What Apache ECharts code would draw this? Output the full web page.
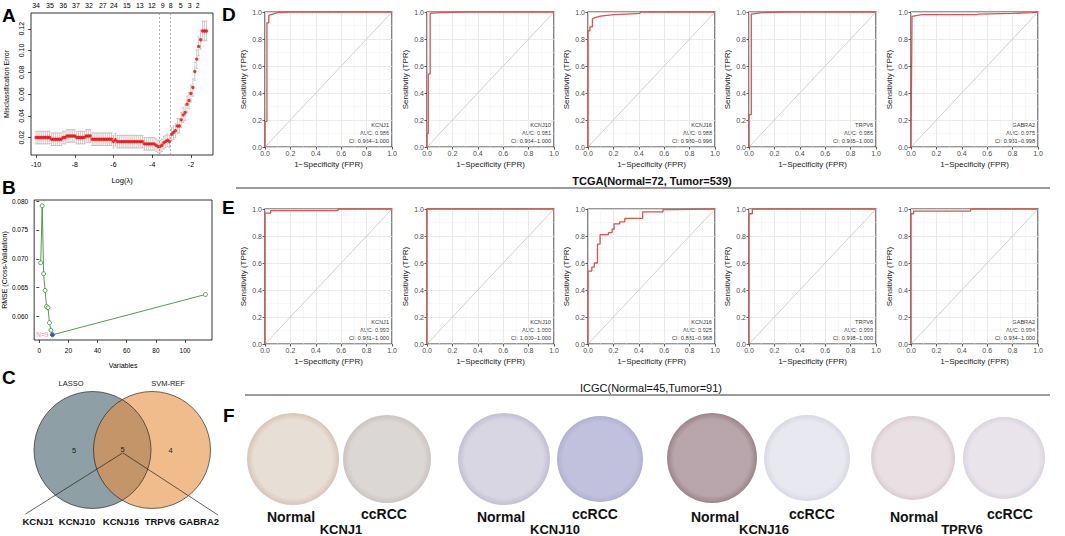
<!DOCTYPE html>
<html><head><meta charset="utf-8">
<script src="https://cdn.jsdelivr.net/npm/echarts@6/dist/echarts.min.js"></script>
<style>html,body{margin:0;padding:0;background:#fff}#c{width:1065px;height:536px}</style>
</head><body><div id="c"></div>
<script>
// ================= DATA =================
// Panel A: LASSO cross-validation
const lassoLogLambda = [-10.0,-9.9,-9.8,-9.7,-9.6,-9.5,-9.4,-9.3,-9.2,-9.1,-9.0,-8.9,-8.8,-8.7,-8.6,-8.5,-8.4,-8.3,-8.2,-8.1,-8.0,-7.9,-7.8,-7.7,-7.6,-7.5,-7.4,-7.3,-7.2,-7.1,-7.0,-6.9,-6.8,-6.7,-6.6,-6.5,-6.4,-6.3,-6.2,-6.1,-6.0,-5.9,-5.8,-5.7,-5.6,-5.5,-5.4,-5.3,-5.2,-5.1,-5.0,-4.9,-4.8,-4.7,-4.6,-4.5,-4.4,-4.3,-4.2,-4.1,-4.0,-3.9,-3.8,-3.7,-3.6,-3.5,-3.4,-3.3,-3.2,-3.1,-3.0,-2.9,-2.8,-2.7,-2.6,-2.5,-2.4,-2.3,-2.2,-2.1,-2.0,-1.9,-1.8,-1.7,-1.6,-1.5,-1.4,-1.3,-1.2];
const lassoError = [0.020,0.020,0.020,0.020,0.020,0.020,0.020,0.020,
  0.0185,0.0185,0.0185,0.0185,0.0185,0.0185,
  0.020,0.020,
  0.0215,0.0215,0.0215,0.0215,0.0215,
  0.020,0.020,0.020,0.020,0.020,
  0.0215,0.0215,0.0215,
  0.0185,0.0185,0.0185,0.0185,0.0185,0.0185,0.0185,0.0185,0.0185,0.0185,0.0185,
  0.0163,0.018,
  0.0163,0.0163,0.0163,0.0163,0.0163,0.0163,0.0163,0.0163,0.0163,0.0163,0.0163,0.0163,0.0163,0.0163,
  0.0142,0.0142,0.0142,0.0142,0.0142,0.0142,
  0.013,0.0117,0.0117,0.013,0.0152,0.0165,0.0175,0.0163,
  0.0231,0.0246,0.0264,0.0307,0.0307,0.0363,0.0409,0.043,0.0507,0.054,0.0605,0.066,0.0808,0.0921,0.1038,0.110,0.118,0.118,0.118];
const lassoSE = [0.0058,0.0058,0.0058,0.0058,0.0058,0.0058,0.0058,0.0058,0.0058,0.0058,
  0.0058,0.0058,0.0058,0.0058,0.0058,0.0058,0.0058,0.0058,0.0058,0.0058,
  0.0058,0.0058,0.0058,0.0058,0.0058,0.0058,0.0058,0.0058,0.0058,0.0058,
  0.0058,0.0058,0.0058,0.0058,0.0058,0.0058,0.0058,0.0058,0.0058,0.0058,
  0.0058,0.0058,0.0058,0.0058,0.0058,0.0058,0.0058,0.0058,0.0058,0.0058,
  0.0058,0.0058,0.0058,0.0058,0.0058,0.0058,0.0058,0.0058,0.0058,0.0058,
  0.0058,0.0058,0.0058,0.0058,0.0058,0.0058,0.0058,0.0058,0.0058,0.0058,
  0.006,0.0062,0.0064,0.0066,0.0066,0.0068,0.007,0.0072,0.0074,0.0076,0.0078,0.008,0.0082,0.0084,0.0086,0.0088,0.009,0.009,0.009];
const lassoTopPos = [-10,-9.28,-8.6,-7.94,-7.27,-6.55,-5.98,-5.31,-4.64,-4.02,-3.46,-3.04,-2.53,-2.06,-1.65];
const lassoTopLabels = [34,35,36,37,32,27,24,15,13,12,9,8,5,3,2];
const lassoXTicks = [-10,-8,-6,-4,-2];
const lassoYTicks = [0.02,0.04,0.06,0.08,0.10,0.12];
const lambdaLines = [-3.63,-3.05];

// Panel B: SVM-RFE
const rfeVars = [1,2,3,4,5,6,7,8,9,114];
const rfeRMSE = [0.0693,0.0792,0.0674,0.0645,0.0617,0.0615,0.0589,0.0576,0.0568,0.0638];
const rfeXTicks = [0,20,40,60,80,100];
const rfeYTicks = [0.060,0.065,0.070,0.075,0.080];

// Panel C: Venn
const vennSets = ['LASSO','SVM-REF'];
const vennCounts = [5,5,4]; // LASSO only, both, SVM-REF only
const vennGenes = ['KCNJ1','KCNJ10','KCNJ16','TRPV6','GABRA2'];

// Panels D/E: ROC
const rocGenes = ['KCNJ1','KCNJ10','KCNJ16','TRPV6','GABRA2'];
const tcgaAUC = [0.986,0.981,0.988,0.986,0.975];
const tcgaCILow = [0.964,0.954,0.980,0.965,0.951];
const tcgaCIHigh = [1.000,1.000,0.996,1.000,0.998];
const icgcAUC = [0.993,1.000,0.925,0.999,0.994];
const icgcCILow = [0.981,1.000,0.881,0.998,0.984];
const icgcCIHigh = [1.000,1.000,0.968,1.000,1.000];
const rocTicks = [0,0.2,0.4,0.6,0.8,1.0];
const rocTcgaKCNJ1 = [[0,0],[0,0.19],[0.015,0.19],[0.015,0.92],[0.03,0.92],[0.03,0.975],[0.06,0.985],[0.1,0.995],[0.2,1],[1,1]];
const rocTcgaKCNJ10 = [[0,0],[0,0.1],[0.01,0.1],[0.01,0.54],[0.025,0.54],[0.025,0.99],[0.1,0.995],[0.3,1],[1,1]];
const rocTcgaKCNJ16 = [[0,0],[0,0.86],[0.015,0.86],[0.015,0.89],[0.035,0.89],[0.035,0.95],[0.06,0.96],[0.1,0.97],[0.2,0.98],[0.3,0.985],[0.41,0.99],[0.41,1],[1,1]];
const rocTcgaTRPV6 = [[0,0],[0,0.24],[0.018,0.24],[0.018,0.985],[0.1,0.995],[0.3,1],[1,1]];
const rocTcgaGABRA2 = [[0,0],[0.008,0.968],[0.02,0.97],[0.085,0.98],[0.52,0.98],[0.53,0.985],[0.8,0.99],[0.95,0.995],[1,1]];
const rocIcgcKCNJ1 = [[0,0],[0,0.97],[0.045,0.97],[0.045,0.988],[0.575,0.988],[0.575,1],[1,1]];
const rocIcgcKCNJ10 = [[0,0],[0,1],[1,1]];
const rocIcgcKCNJ16 = [[0,0],[0,0.54],[0.03,0.54],[0.03,0.57],[0.05,0.57],[0.05,0.6],[0.075,0.6],[0.075,0.74],[0.095,0.74],[0.095,0.81],[0.16,0.81],[0.16,0.825],[0.19,0.825],[0.19,0.85],[0.205,0.85],[0.205,0.89],[0.25,0.89],[0.25,0.905],[0.29,0.905],[0.29,0.93],[0.43,0.93],[0.43,0.978],[0.59,0.978],[0.59,0.995],[0.66,0.995],[0.66,1],[1,1]];
const rocIcgcTRPV6 = [[0,0],[0,0.965],[0.026,0.965],[0.026,1],[1,1]];
const rocIcgcGABRA2 = [[0,0],[0,0.965],[0.02,0.965],[0.02,0.985],[0.47,0.985],[0.47,1],[1,1]];
const rocTcga = [rocTcgaKCNJ1,rocTcgaKCNJ10,rocTcgaKCNJ16,rocTcgaTRPV6,rocTcgaGABRA2];
const rocIcgc = [rocIcgcKCNJ1,rocIcgcKCNJ10,rocIcgcKCNJ16,rocIcgcTRPV6,rocIcgcGABRA2];
const tcgaTitle = 'TCGA(Normal=72, Tumor=539)';
const icgcTitle = 'ICGC(Normal=45,Tumor=91)';

// Panel F: IHC
const ihcGenes = ['KCNJ1','KCNJ10','KCNJ16','TPRV6'];
const ihcGroups = ['Normal','ccRCC'];

// ================= LAYOUT / OPTION =================
const FONT = 'Liberation Sans, Arial, Helvetica, sans-serif';
const grids = [], xAxes = [], yAxes = [], series = [], graphics = [];
const nearIdx = (arr, v) => arr.findIndex(p => Math.abs(p - v) < 1e-6);

// ---- Panel A ----
grids.push({left:31, top:13, width:182, height:142, show:true, borderColor:'#000', borderWidth:0.8});
xAxes.push({gridIndex:0, type:'value', min:-10.26, max:-0.86,
  axisLine:{show:false}, splitLine:{show:false},
  axisTick:{customValues:lassoXTicks, length:3, lineStyle:{color:'#000', width:0.7}},
  axisLabel:{customValues:lassoXTicks, fontSize:7, margin:6, color:'#000', fontFamily:FONT},
  name:'Log(λ)', nameLocation:'middle', nameGap:21, nameTextStyle:{fontSize:7.5, color:'#000', fontFamily:FONT}});
xAxes.push({gridIndex:0, type:'value', position:'top', min:-10.26, max:-0.86,
  axisLine:{show:false}, splitLine:{show:false}, axisTick:{show:false},
  axisLabel:{customValues:lassoTopPos, fontSize:7, margin:4, color:'#000', fontFamily:FONT,
    formatter:(v)=>{const k=nearIdx(lassoTopPos,v); return k>=0?String(lassoTopLabels[k]):'';}}});
yAxes.push({gridIndex:0, type:'value', min:0.004, max:0.1345,
  axisLine:{show:false}, splitLine:{show:false},
  axisTick:{customValues:lassoYTicks, length:3, lineStyle:{color:'#000', width:0.7}},
  axisLabel:{customValues:lassoYTicks, rotate:90, fontSize:7, margin:6, color:'#000', fontFamily:FONT, formatter:v=>v.toFixed(2)},
  name:'Misclassification Error', nameLocation:'middle', nameGap:21, nameTextStyle:{fontSize:7, color:'#000', fontFamily:FONT}});
series.push({type:'custom', xAxisIndex:0, yAxisIndex:0, silent:true, z:2,
  data: lassoLogLambda.map((x,i)=>[x, lassoError[i]-lassoSE[i], lassoError[i]+lassoSE[i]]),
  renderItem:(params, api)=>{
    const x=api.value(0), p1=api.coord([x, api.value(1)]), p2=api.coord([x, api.value(2)]);
    const w=1.1, st={stroke:'#a9a9a9', lineWidth:0.6};
    return {type:'group', children:[
      {type:'line', shape:{x1:p1[0],y1:p1[1],x2:p2[0],y2:p2[1]}, style:st},
      {type:'line', shape:{x1:p1[0]-w,y1:p1[1],x2:p1[0]+w,y2:p1[1]}, style:st},
      {type:'line', shape:{x1:p2[0]-w,y1:p2[1],x2:p2[0]+w,y2:p2[1]}, style:st}]};
  }});
series.push({type:'scatter', xAxisIndex:0, yAxisIndex:0, silent:true, z:3,
  data: lassoLogLambda.map((x,i)=>[x, lassoError[i]]),
  symbol:'circle', symbolSize:3.4, itemStyle:{color:'#ff0000'},
  markLine:{symbol:'none', silent:true, label:{show:false}, animation:false,
    lineStyle:{type:[2,2], color:'#8c8c8c', width:0.7},
    data: lambdaLines.map(v=>({xAxis:v}))}});

// ---- Panel B ----
grids.push({left:31, top:200, width:181, height:140, show:true, borderColor:'#000', borderWidth:0.8});
xAxes.push({gridIndex:1, type:'value', min:-3.5, max:118.5,
  axisLine:{show:false}, splitLine:{show:false},
  axisTick:{customValues:rfeXTicks, length:3, lineStyle:{color:'#000', width:0.7}},
  axisLabel:{customValues:rfeXTicks, fontSize:6.5, margin:7, color:'#000', fontFamily:FONT},
  name:'Variables', nameLocation:'middle', nameGap:22, nameTextStyle:{fontSize:7, color:'#000', fontFamily:FONT}});
yAxes.push({gridIndex:1, type:'value', min:0.0559, max:0.0802,
  axisLine:{show:false}, splitLine:{show:false},
  axisTick:{customValues:rfeYTicks, length:3, lineStyle:{color:'#000', width:0.7}},
  axisLabel:{customValues:rfeYTicks, fontSize:6.5, margin:6, color:'#000', fontFamily:FONT, formatter:v=>v.toFixed(3)},
  name:'RMSE (Cross-Validation)', nameLocation:'middle', nameGap:22, nameTextStyle:{fontSize:7, color:'#000', fontFamily:FONT}});
series.push({type:'line', xAxisIndex:2, yAxisIndex:1, silent:true,
  data: rfeVars.map((v,i)=>[v, rfeRMSE[i]]),
  symbol:'circle', symbolSize:4, showAllSymbol:true,
  lineStyle:{color:'#3f8f3f', width:0.9},
  itemStyle:{color:'#ffffff', borderColor:'#3f8f3f', borderWidth:0.9}});
const rfeMin = rfeRMSE.indexOf(Math.min(...rfeRMSE));
series.push({type:'scatter', xAxisIndex:2, yAxisIndex:1, silent:true, z:4,
  data:[[rfeVars[rfeMin], rfeRMSE[rfeMin]]], symbolSize:4, itemStyle:{color:'#1a1aff'},
  label:{show:true, position:'left', distance:2, formatter:'N='+rfeVars[rfeMin], fontSize:6.5, color:'#ff5f86', fontFamily:FONT}});

// ---- overlay pixel grid (Venn + IHC) ----
grids.push({left:0, top:0, width:1065, height:536, show:false});
const xOv = xAxes.length, yOv = yAxes.length;
xAxes.push({gridIndex:2, type:'value', min:0, max:1065, show:false});
yAxes.push({gridIndex:2, type:'value', min:0, max:536, inverse:true, show:false});
const vennR = 117;
series.push({type:'scatter', xAxisIndex:xOv, yAxisIndex:yOv, silent:true, z:1,
  data:[{name:vennSets[0], value:[92.5,450]}], symbolSize:vennR, itemStyle:{color:'#728790'}});
series.push({type:'scatter', xAxisIndex:xOv, yAxisIndex:yOv, silent:true, z:2,
  data:[{name:vennSets[1], value:[152,450]}], symbolSize:vennR, itemStyle:{color:'rgb(230,143,63)', opacity:0.6}});
series.push({type:'scatter', xAxisIndex:xOv, yAxisIndex:yOv, silent:true, z:3,
  data:[[92.5,450],[152,450]], symbolSize:vennR, itemStyle:{color:'rgba(0,0,0,0)', borderColor:'#1a1a1a', borderWidth:0.8}});
series.push({type:'lines', coordinateSystem:'cartesian2d', xAxisIndex:xOv, yAxisIndex:yOv, silent:true, z:4,
  lineStyle:{color:'#222', width:0.7, opacity:1},
  data:[{coords:[[122.5,453],[25.5,514]]},{coords:[[123,453],[218,515]]}]});

// IHC cores
const ihcCores = [
  {x:293,y:459,r:46,c1:'#e2d6ca',c2:'#cdb7a4'}, {x:387,y:459,r:44,c1:'#d2cdca',c2:'#bdb6b2'},
  {x:504,y:459,r:46,c1:'#cfcbdc',c2:'#b3aec8'}, {x:600,y:459,r:43,c1:'#b2b2d6',c2:'#9d9dc6'},
  {x:712,y:458,r:45,c1:'#a58f96',c2:'#82656a'}, {x:807,y:458,r:43,c1:'#e2e2ec',c2:'#cfcfde'},
  {x:913,y:458,r:42,c1:'#e4d8dc',c2:'#d1c0c7'}, {x:1004,y:458,r:41,c1:'#e3dee6',c2:'#d0c9d6'}];
series.push({type:'scatter', xAxisIndex:xOv, yAxisIndex:yOv, silent:true, z:1,
  data: ihcCores.map((p,i)=>({name:ihcGenes[Math.floor(i/2)]+' '+ihcGroups[i%2], value:[p.x,p.y], symbolSize:p.r*2,
    itemStyle:{color:{type:'radial', x:0.5, y:0.5, r:0.5, colorStops:[{offset:0,color:p.c1},{offset:0.85,color:p.c1},{offset:1,color:p.c2}]}}}))});

// ---- ROC panels ----
const rocLefts = [265,427,588,749,911];
const rocW = 127, rocH = 135;
function addRoc(left, top, curve, gene, auc, lo, hi){
  const gi = grids.length;
  grids.push({left, top, width:rocW, height:rocH, show:true, borderColor:'#333', borderWidth:1.2, backgroundColor:'#fff'});
  const xi = xAxes.length, yi = yAxes.length;
  const common = {gridIndex:gi, type:'value', min:0, max:1, interval:0.2,
    axisLine:{show:false},
    axisTick:{show:true, length:2.5, lineStyle:{color:'#333', width:0.8}},
    splitLine:{show:true, lineStyle:{color:'#e4e4e4', width:0.8}},
    minorTick:{show:false, splitNumber:2},
    minorSplitLine:{show:true, lineStyle:{color:'#f0f0f0', width:0.5}},
    nameLocation:'middle', nameTextStyle:{fontSize:8, color:'#1a1a1a', fontFamily:FONT}};
  xAxes.push(Object.assign({}, common, {axisLabel:{fontSize:7, margin:3, color:'#4d4d4d', fontFamily:FONT, formatter:v=>v.toFixed(1)},
    name:'1−Specificity (FPR)', nameGap:13}));
  yAxes.push(Object.assign({}, common, {axisLabel:{fontSize:7, margin:3, color:'#4d4d4d', fontFamily:FONT, formatter:v=>v.toFixed(1)},
    name:'Sensitivity (TPR)', nameGap:18}));
  series.push({type:'line', xAxisIndex:xi, yAxisIndex:yi, silent:true, symbol:'none', clip:false,
    data:[[0,0],[1,1]], lineStyle:{color:'#c4c4c4', width:0.8}});
  series.push({type:'line', xAxisIndex:xi, yAxisIndex:yi, silent:true, symbol:'none', clip:false, z:3,
    data:curve, lineStyle:{color:'#d9534f', width:1.3}});
  const rx = left + rocW - 3, by = top + rocH;
  const ts = {fontSize:5.6, fill:'#333', fontFamily:FONT, textAlign:'right', textVerticalAlign:'middle'};
  graphics.push({type:'text', x:rx, y:by-22, style:Object.assign({text:gene}, ts)});
  graphics.push({type:'text', x:rx, y:by-14.5, style:Object.assign({text:'AUC: '+auc.toFixed(3)}, ts)});
  graphics.push({type:'text', x:rx, y:by-6.5, style:Object.assign({text:'CI: '+lo.toFixed(3)+'−'+hi.toFixed(3)}, ts)});
}
rocGenes.forEach((g,i)=>addRoc(rocLefts[i], 12, rocTcga[i], g, tcgaAUC[i], tcgaCILow[i], tcgaCIHigh[i]));
rocGenes.forEach((g,i)=>addRoc(rocLefts[i], 209, rocIcgc[i], g, icgcAUC[i], icgcCILow[i], icgcCIHigh[i]));

// ---- text / decorations ----
const letter = (t,x,y)=>graphics.push({type:'text', x, y, style:{text:t, fontSize:19, fontWeight:'bold', fill:'#000', fontFamily:FONT, textVerticalAlign:'middle'}});
letter('A',2,15); letter('B',2,187); letter('C',2,377); letter('D',222,14); letter('E',222,207); letter('F',223,415);

graphics.push({type:'line', shape:{x1:236,y1:188,x2:1050,y2:188}, style:{stroke:'#7a7a7a', lineWidth:1.3}});
graphics.push({type:'line', shape:{x1:245,y1:395,x2:1050,y2:395}, style:{stroke:'#7a7a7a', lineWidth:1.3}});
graphics.push({type:'text', x:652, y:181, style:{text:tcgaTitle, fontSize:11, fontWeight:'bold', fill:'#111', fontFamily:FONT, textAlign:'center', textVerticalAlign:'middle'}});
graphics.push({type:'text', x:651, y:388, style:{text:icgcTitle, fontSize:11, fill:'#111', fontFamily:FONT, textAlign:'center', textVerticalAlign:'middle'}});

// Venn labels
const vt = (t,x,y,extra)=>graphics.push({type:'text', x, y, z:10, style:Object.assign({text:String(t), fontSize:7.5, fill:'#222', fontFamily:FONT, textAlign:'center', textVerticalAlign:'middle'}, extra||{})});
vt(vennSets[0],71,383); vt(vennSets[1],168,383);
vt(vennCounts[0],74,450); vt(vennCounts[1],122.7,449); vt(vennCounts[2],170.7,450);
const geneX = [38,77,121,160,199];
vennGenes.forEach((g,i)=>vt(g, geneX[i], 521, {fontSize:9.5, fontWeight:'bold', fill:'#111'}));

// IHC labels
const ihcNormalX = [291,501,715,914], ihcTumorX = [384,595,812,1010], ihcGeneX = [341,555,764,962];
ihcGenes.forEach((g,i)=>{
  const st = {fontWeight:'bold', fill:'#111', fontFamily:FONT, textAlign:'center', textVerticalAlign:'middle'};
  graphics.push({type:'text', x:ihcNormalX[i], y:517, style:Object.assign({text:ihcGroups[0], fontSize:14}, st)});
  graphics.push({type:'text', x:ihcTumorX[i], y:514, style:Object.assign({text:ihcGroups[1], fontSize:14}, st)});
  graphics.push({type:'text', x:ihcGeneX[i], y:529, style:Object.assign({text:g, fontSize:13}, st)});
});

const chart = echarts.init(document.getElementById('c'), null, {renderer:'svg'});
chart.setOption({animation:false, backgroundColor:'#fff', grid:grids, xAxis:xAxes, yAxis:yAxes, series, graphic:{elements:graphics}});
</script></body></html>
